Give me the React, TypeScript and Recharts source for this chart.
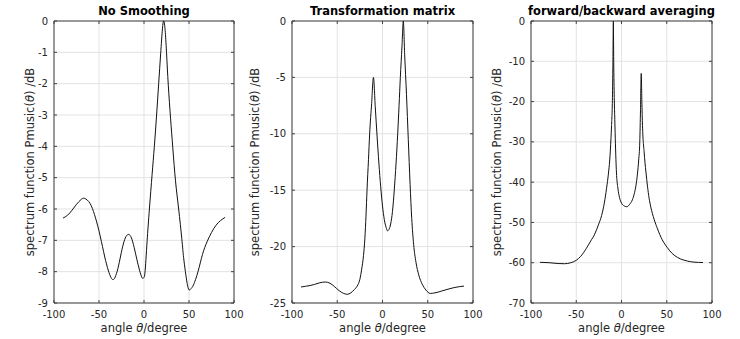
import React from 'react';
import { LineChart, Line, XAxis, YAxis, CartesianGrid, ReferenceLine } from 'recharts';

// angle ticks shared by all three panels
const angleTicks = [-100, -50, 0, 50, 100];

// No Smoothing
const noSmoothAngles = [
  -90, -85, -80, -75, -70, -66, -60, -55, -50, -45, -42, -39, -36, -34, -32, -29, -26, -23, -20, -17, -14, -11, -8,
  -5, -2, 0, 1, 2.2, 3.5, 6, 9, 11.5, 14, 16.3, 18.5, 20.5, 22, 23.5, 25, 27, 29.5, 32, 35, 38.5, 42, 44, 46, 48, 50,
  52, 55, 60, 65, 70, 75, 80, 85, 90,
];
const noSmoothDb = [
  -6.29, -6.2, -6.04, -5.85, -5.7, -5.66, -5.82, -6.18, -6.7, -7.35, -7.72, -8.02, -8.22, -8.25, -8.17, -7.9, -7.5,
  -7.12, -6.88, -6.81, -6.92, -7.22, -7.6, -7.95, -8.2, -8.18, -8.05, -7.6, -7.0, -6.0, -4.9, -4.0, -3.0, -2.0, -1.05,
  -0.25, 0, -0.3, -1.0, -2.05, -3.1, -4.05, -5.1, -6.0, -6.95, -7.55, -8.0, -8.38, -8.58, -8.55, -8.42, -8.0, -7.45,
  -7.05, -6.75, -6.52, -6.37, -6.27,
];
const noSmoothTicks = [0, -1, -2, -3, -4, -5, -6, -7, -8, -9];

// Transformation matrix
const transformAngles = [
  -90, -85, -80, -75, -70, -63, -58, -53, -48, -43, -39, -35, -31, -28, -25, -23, -21, -19.5, -18.2, -17.1, -15.5,
  -14.2, -12, -10, -8, -6, -4, -2, 0, 2, 4, 5.5, 7, 9, 11, 13, 15, 16.8, 18.3, 19.7, 21.5, 23, 24.5, 26.5, 28.5, 30.5,
  32.3, 34.4, 37, 40, 44, 48, 52.8, 58, 65, 71.3, 80, 90,
];
const transformDb = [
  -23.58, -23.52, -23.45, -23.35, -23.22, -23.14, -23.25, -23.55, -23.9, -24.15, -24.23, -24.1, -23.8, -23.5, -22.9,
  -22.0, -20.8, -19.3, -17.2, -15, -12.3, -10, -7.3, -5, -7.6, -10.2, -12.6, -14.7, -16.4, -17.6, -18.3, -18.6,
  -18.5, -18.0, -16.9, -15.0, -12.6, -10, -7.5, -5, -2.3, 0, -3, -6.5, -10.5, -14.5, -17.5, -19.8, -21.4, -22.5,
  -23.35, -23.85, -24.15, -24.1, -23.95, -23.8, -23.62, -23.5,
];
const transformTicks = [0, -5, -10, -15, -20, -25];

// forward/backward averaging
const fbAngles = [
  -90, -80, -70, -63, -56, -50, -45, -39, -34, -29.6, -25.5, -22, -19, -16.5, -14.5, -13, -11.6, -11, -10, -9.5, -9,
  -8.6, -8, -7.4, -6.7, -5.6, -4, -2.2, 0, 3, 6, 9, 12, 14, 16, 17.6, 19, 20.2, 21, 21.8, 22.5, 23.2, 25, 27, 28.7,
  30.5, 32.4, 36, 39.8, 45, 50.8, 56, 62, 68, 73, 80, 90,
];
const fbDb = [
  -59.9, -60.0, -60.2, -60.25, -60.0, -59.4, -58.4, -56.5, -54.6, -52.9, -50.6, -48.3, -45.2, -41.5, -38.0, -34.5,
  -29, -26, -19, -11, 0, -10, -19, -24.5, -30.5, -37.5, -41.5, -43.8, -45.2, -45.9, -46.1, -45.5, -44.4, -43.0, -40.8,
  -38.0, -34.5, -30, -22, -13, -20, -26, -32.5, -37.5, -41, -44, -46.2, -49.2, -51.6, -54.3, -56.3, -57.7, -58.7,
  -59.3, -59.6, -59.85, -59.95,
];
const fbTicks = [0, -10, -20, -30, -40, -50, -60, -70];

const H = 339;
const PLOT_TOP = 21;
const PLOT_BOTTOM = H - 36;
const FONT = '"DejaVu Sans", sans-serif';
const AXIS = '#404040';
const TEXT = '#262626';
const TICK_LEN = 3;

interface PanelProps {
  title: string;
  angles: number[];
  values: number[];
  yTicks: number[];
  yMin: number;
  left: number;
  yWidth: number;
  plotW: number;
  labelX: number;
  curve: 'natural' | 'monotone';
}

const Panel: React.FC<PanelProps> = ({ title, angles, values, yTicks, yMin, left, yWidth, plotW, labelX, curve }) => {
  const data = angles.map((a, i) => ({ angle: a, db: values[i] }));
  const rightPad = 16;
  const width = yWidth + plotW + rightPad;
  const yDomain: [number, number] = [yMin, 0];
  const xDomain: [number, number] = [-100, 100];
  const cx = yWidth + plotW / 2;
  const cy = (PLOT_TOP + PLOT_BOTTOM) / 2;

  // matlab style: ticks point inwards, on both sides of the box
  const xTick = (p: any) => (
    <g>
      <line x1={p.x} x2={p.x} y1={PLOT_BOTTOM} y2={PLOT_BOTTOM - TICK_LEN} stroke={AXIS} />
      <line x1={p.x} x2={p.x} y1={PLOT_TOP} y2={PLOT_TOP + TICK_LEN} stroke={AXIS} />
      <text x={p.x} y={PLOT_BOTTOM + 14.5} textAnchor="middle" fill={TEXT} fontSize={10} fontFamily={FONT}>
        {p.payload.value}
      </text>
    </g>
  );
  const yTick = (p: any) => (
    <g>
      <line x1={yWidth} x2={yWidth + TICK_LEN} y1={p.y} y2={p.y} stroke={AXIS} />
      <line x1={yWidth + plotW} x2={yWidth + plotW - TICK_LEN} y1={p.y} y2={p.y} stroke={AXIS} />
      <text x={p.x} y={p.y} dy="0.355em" textAnchor="end" fill={TEXT} fontSize={10} fontFamily={FONT}>
        {p.payload.value}
      </text>
    </g>
  );

  return (
    <div style={{ position: 'absolute', left, top: 0, width, height: H }}>
      <div
        style={{
          position: 'absolute',
          left: cx,
          top: 4,
          transform: 'translateX(-50%)',
          whiteSpace: 'nowrap',
          font: `bold 11.5px ${FONT}`,
          lineHeight: '14px',
          color: '#000',
        }}
      >
        {title}
      </div>
      <LineChart width={width} height={H} data={data} margin={{ top: PLOT_TOP, right: rightPad, bottom: 0, left: 0 }}>
        <CartesianGrid stroke="#e3e3e3" />
        <XAxis
          dataKey="angle"
          type="number"
          domain={xDomain}
          ticks={angleTicks}
          height={36}
          tickLine={false}
          stroke={AXIS}
          tick={xTick}
          label={{
            content: () => (
              <text x={cx} y={PLOT_BOTTOM + 29} textAnchor="middle" fill={TEXT} fontSize={11.5} fontFamily={FONT}>
                angle <tspan fontStyle="italic">θ</tspan>/degree
              </text>
            ),
          }}
        />
        <YAxis
          type="number"
          domain={yDomain}
          ticks={yTicks}
          width={yWidth}
          tickLine={false}
          tickSize={3}
          tickMargin={3}
          stroke={AXIS}
          tick={yTick}
          label={{
            content: () => (
              <text
                x={labelX}
                y={cy}
                transform={`rotate(-90, ${labelX}, ${cy})`}
                textAnchor="middle"
                fill={TEXT}
                fontSize={11.5}
                fontFamily={FONT}
              >
                spectrum function Pmusic(<tspan fontStyle="italic">θ</tspan>) /dB
              </text>
            ),
          }}
        />
        <ReferenceLine y={0} stroke={AXIS} />
        <ReferenceLine x={100} stroke={AXIS} />
        <Line dataKey="db" type={curve} stroke="#111" strokeWidth={1} dot={false} isAnimationActive={false} />
      </LineChart>
    </div>
  );
};

const App: React.FC = () => {
  return (
    <div style={{ position: 'fixed', left: 0, top: 0, width: 740, height: H, background: '#fff' }}>
      <Panel
        title="No Smoothing"
        angles={noSmoothAngles}
        values={noSmoothDb}
        yTicks={noSmoothTicks}
        yMin={-9}
        left={0}
        yWidth={54}
        plotW={180}
        labelX={34}
        curve="natural"
      />
      <Panel
        title="Transformation matrix"
        angles={transformAngles}
        values={transformDb}
        yTicks={transformTicks}
        yMin={-25}
        left={237}
        yWidth={55}
        plotW={181}
        labelX={21.5}
        curve="monotone"
      />
      <Panel
        title="forward/backward averaging"
        angles={fbAngles}
        values={fbDb}
        yTicks={fbTicks}
        yMin={-70}
        left={476}
        yWidth={55}
        plotW={181}
        labelX={25}
        curve="monotone"
      />
    </div>
  );
};

export default App;
